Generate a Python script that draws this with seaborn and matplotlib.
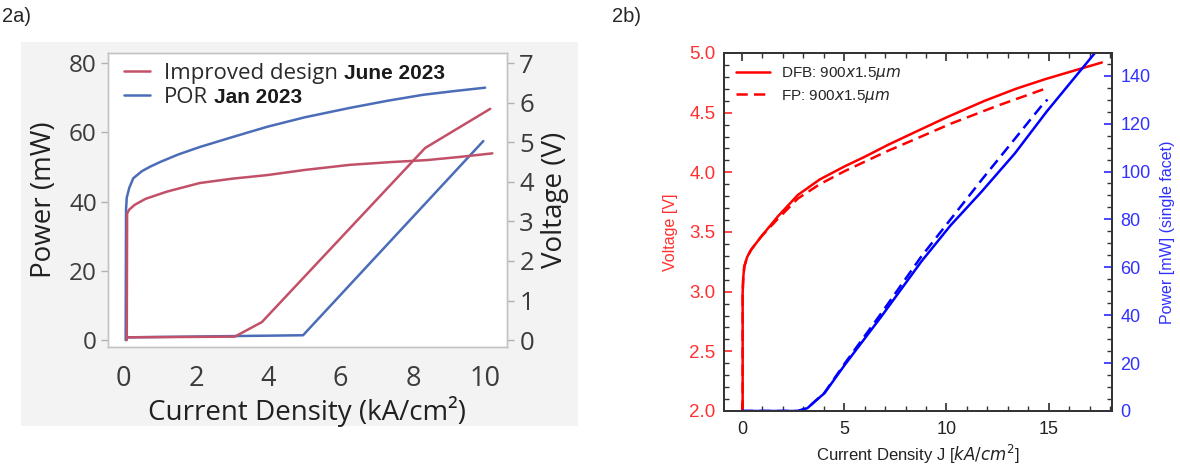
import matplotlib
matplotlib.use("Agg")
import matplotlib.pyplot as plt
import matplotlib.patches as mpatches
from matplotlib.ticker import MultipleLocator, FormatStrFormatter
import seaborn as sns

# ---- 2a) data ----
por_v_j = [0.05, 0.06, 0.08, 0.15, 0.26, 0.5, 0.72, 1.0, 1.5, 2.1, 3.0, 3.96, 5.0, 6.26, 7.3, 8.28, 9.2, 10.0]
por_v = [0.0, 3.3, 3.6, 3.85, 4.09, 4.27, 4.38, 4.5, 4.69, 4.88, 5.13, 5.39, 5.63, 5.87, 6.05, 6.2, 6.3, 6.38]
imp_v_j = [0.08, 0.09, 0.15, 0.3, 0.6, 1.18, 2.1, 3.0, 3.96, 5.0, 6.26, 7.4, 8.39, 9.3, 10.2]
imp_v = [0.0, 3.2, 3.3, 3.42, 3.57, 3.75, 3.97, 4.08, 4.17, 4.3, 4.43, 4.5, 4.55, 4.63, 4.72]
por_p_j = [0.1, 4.96, 9.95]
por_p = [0.8, 1.4, 57.5]
imp_p_j = [0.1, 3.07, 3.82, 8.34, 10.14]
imp_p = [0.8, 1.0, 5.2, 55.5, 66.8]

# ---- 2b) data ----
dfb_v_j = [0.03, 0.03, 0.06, 0.11, 0.25, 0.44, 0.93, 1.75, 2.73, 3.8, 5.02, 6.0, 7.14, 8.5, 10.0, 11.88,
           13.4, 14.82, 16.2, 17.6]
dfb_v = [2.0, 2.99, 3.12, 3.21, 3.29, 3.35, 3.46, 3.63, 3.81, 3.94, 4.05, 4.13, 4.23, 4.34, 4.46, 4.6,
         4.7, 4.78, 4.85, 4.92]
fp_v_j = [0.03, 0.03, 0.06, 0.11, 0.25, 0.44, 0.93, 1.75, 2.73, 3.8, 5.02, 7.14, 8.5, 10.25, 12.53, 14.82, 14.95]
fp_v = [2.0, 2.99, 3.12, 3.21, 3.29, 3.35, 3.46, 3.61, 3.78, 3.9, 4.01, 4.18, 4.28, 4.41, 4.56, 4.70, 4.71]
dfb_p_j = [0.0, 2.73, 3.2, 3.55, 4.03, 5.02, 6.81, 8.77, 10.2, 11.72, 13.35, 14.9, 16.2, 17.6]
dfb_p = [0.0, 0.0, 1.2, 3.9, 7.4, 19.2, 39.4, 62.4, 77.5, 91.6, 107.6, 125.0, 138.5, 153.0]
fp_p_j = [0.0, 2.73, 3.2, 3.55, 4.03, 5.02, 6.81, 8.77, 11.72, 14.82, 14.95]
fp_p = [0.0, 0.0, 1.2, 3.9, 7.6, 19.8, 40.8, 64.5, 96.5, 129.2, 130.0]

RED_A = "#c25068"
BLUE_A = "#4b6cb7"
GREY_TXT = "#3c3c3c"

sns.set_theme(style="white")
plt.rcParams["font.family"] = ["Open Sans", "DejaVu Sans"]

fig = plt.figure(figsize=(11.8, 4.68), dpi=100)

# grey panel behind 2a
fig.patches.append(mpatches.Rectangle((0.0178, 0.0897), 0.472, 0.8205, transform=fig.transFigure,
                                      facecolor="#f3f3f3", edgecolor="none", zorder=-5))

fig.text(0.002, 0.985, "2a)", fontsize=14.5, family="Liberation Sans", va="top", ha="left")
fig.text(0.519, 0.985, "2b)", fontsize=14.5, family="Liberation Sans", va="top", ha="left")

# ---------------- 2a ----------------
ax = fig.add_axes([0.0915, 0.2585, 0.338, 0.628])
ax.set_facecolor("white")
ax2 = ax.twinx()

sns.lineplot(x=por_p_j, y=por_p, ax=ax, color=BLUE_A, lw=1.8, estimator=None, sort=False)
sns.lineplot(x=imp_p_j, y=imp_p, ax=ax, color=RED_A, lw=1.8, estimator=None, sort=False)
sns.lineplot(x=por_v_j, y=por_v, ax=ax2, color=BLUE_A, lw=1.8, estimator=None, sort=False, label="POR")
sns.lineplot(x=imp_v_j, y=imp_v, ax=ax2, color=RED_A, lw=1.8, estimator=None, sort=False,
             label="Improved design")

ax.set_xlim(-0.44, 10.6)
ax.set_ylim(-2.0, 82.9)
ax2.set_ylim(-2.0 * 7 / 80, 82.9 * 7 / 80)
ax.set_xticks([0, 2, 4, 6, 8, 10])
ax.set_yticks([0, 20, 40, 60, 80])
ax2.set_yticks(range(0, 8))

for a in (ax, ax2):
    for s in a.spines.values():
        s.set_color("#c4c4c4")
        s.set_linewidth(1.0)
ax.tick_params(axis="both", direction="out", length=5, width=1, color="#b0b0b0",
               labelcolor=GREY_TXT)
ax.tick_params(axis="x", labelsize=19.5, pad=8)
ax.tick_params(axis="y", labelsize=17.5, pad=3)
ax2.tick_params(axis="y", direction="out", length=5, width=1, color="#b0b0b0",
                labelsize=18.5, labelcolor=GREY_TXT, pad=4)
ax.set_xlabel("Current Density (kA/cm²)", fontsize=20, color="#202020", labelpad=2)
ax.set_ylabel("Power (mW)", fontsize=20, color="#202020", labelpad=8)
ax2.set_ylabel("Voltage (V)", fontsize=20, color="#202020", labelpad=5)

h, l = ax2.get_legend_handles_labels()
order = [1, 0]
leg = ax2.legend([h[i] for i in order], [l[i] for i in order], loc="upper left",
                 bbox_to_anchor=(0.0, 1.02), frameon=False, fontsize=16, handlelength=1.2,
                 handletextpad=0.6, labelspacing=0.15, borderaxespad=0.3)
for t in leg.get_texts():
    t.set_color("#2a2a2a")

# ---------------- 2b ----------------
bx = fig.add_axes([0.6136, 0.1218, 0.3288, 0.765])
bx2 = bx.twinx()

sns.lineplot(x=dfb_v_j, y=dfb_v, ax=bx, color="#ff0000", lw=1.8, estimator=None, sort=False,
             label=r"DFB: 900$x$1.5$\mu m$")
sns.lineplot(x=fp_v_j, y=fp_v, ax=bx, color="#ff0000", lw=1.8, estimator=None, sort=False,
             linestyle=(0, (4.5, 2.5)), label=r"FP: 900$x$1.5$\mu m$")
sns.lineplot(x=dfb_p_j, y=dfb_p, ax=bx2, color="#0000ff", lw=1.8, estimator=None, sort=False)
sns.lineplot(x=fp_p_j, y=fp_p, ax=bx2, color="#0000ff", lw=1.8, estimator=None, sort=False,
             linestyle=(0, (4.5, 2.5)))

bx.set_xlim(-0.88, 18.1)
bx.set_ylim(2.0, 5.0)
bx2.set_ylim(0, 149.5)
bx.xaxis.set_major_locator(MultipleLocator(5))
bx.xaxis.set_minor_locator(MultipleLocator(1))
bx.yaxis.set_major_locator(MultipleLocator(0.5))
bx.yaxis.set_minor_locator(MultipleLocator(0.1))
bx2.yaxis.set_major_locator(MultipleLocator(20))
bx2.yaxis.set_minor_locator(MultipleLocator(5))
bx.yaxis.set_major_formatter(FormatStrFormatter("%.1f"))

for a in (bx, bx2):
    for s in a.spines.values():
        s.set_color("#333333")
        s.set_linewidth(1.3)
bx.tick_params(axis="x", which="both", direction="in", top=True, bottom=True, color="#333333",
               labelsize=13, labelcolor="#222222", pad=7)
bx.tick_params(axis="x", which="major", length=6)
bx.tick_params(axis="x", which="minor", length=3.5)
bx.tick_params(axis="y", which="major", direction="in", length=6, color="#ff3030", labelcolor="#ff3030",
               labelsize=13.5, left=True, right=False, pad=6)
bx.tick_params(axis="y", which="minor", direction="in", length=3.5, color="#333333", left=True, right=False)
bx2.tick_params(axis="y", which="major", direction="in", length=6, color="#3030ff", labelcolor="#3030ff",
                labelsize=13, pad=6)
bx2.tick_params(axis="y", which="minor", direction="in", length=3.5, color="#333333")

for lab in bx.get_xticklabels() + bx.get_yticklabels() + bx2.get_yticklabels():
    lab.set_family(["Liberation Sans", "DejaVu Sans"])

bx.set_xlabel(r"Current Density J [$kA/cm^2$]", fontsize=12, family="Liberation Sans", color="#222222",
              labelpad=4)
bx.set_ylabel("Voltage [V]", fontsize=11.5, family="Liberation Sans", color="#ff3030", labelpad=8)
bx2.set_ylabel("Power [mW] (single facet)", fontsize=11.5, family="Liberation Sans", color="#3030ff",
               labelpad=7)

h, l = bx.get_legend_handles_labels()
if bx.get_legend() is not None:
    bx.get_legend().remove()
leg2 = bx2.legend(h, l, loc="upper left", frameon=False, handlelength=2.2, handletextpad=0.7,
                  labelspacing=0.35, borderaxespad=0.4, prop={"family": "Liberation Sans", "size": 11})

# bold date tags next to the 2a legend labels
fig.canvas.draw()
renderer = fig.canvas.get_renderer()
tags = {"Improved design": "June 2023", "POR": "Jan 2023"}
inv = fig.transFigure.inverted()
for t in leg.get_texts():
    bb = t.get_window_extent(renderer)
    x0, y0 = inv.transform((bb.x1 + 6, (bb.y0 + bb.y1) / 2))
    fig.text(x0, y0, tags[t.get_text()], fontsize=15, fontweight="bold",
             family="Liberation Sans", color="#1a1a1a", va="center", ha="left")

fig.savefig("out.png", dpi=100)
